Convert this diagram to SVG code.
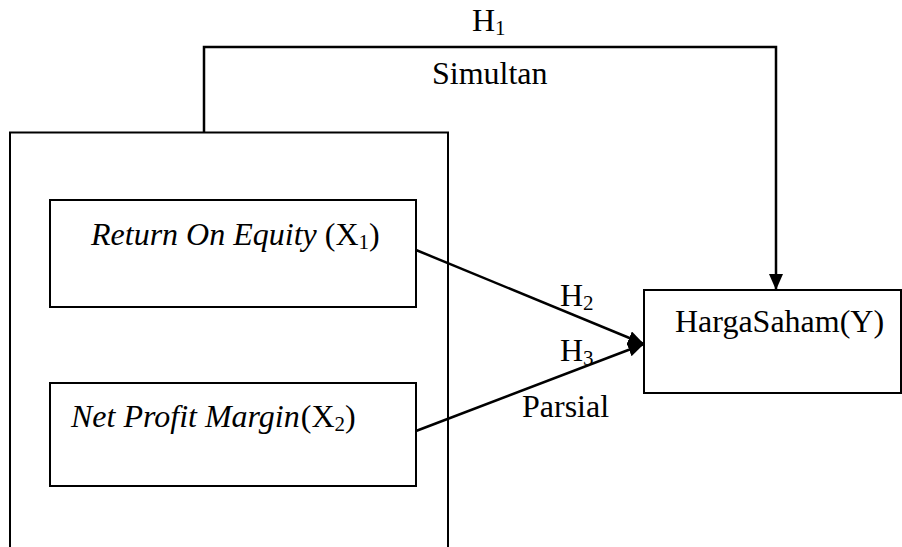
<svg xmlns="http://www.w3.org/2000/svg" width="902" height="547" viewBox="0 0 902 547">
<defs>
<marker id="ah" markerWidth="16" markerHeight="14" refX="16" refY="7" orient="auto" markerUnits="userSpaceOnUse">
<path d="M0,0 L16,7 L0,14 Z" fill="#000"/>
</marker>
</defs>
<rect width="902" height="547" fill="#fff"/>
<g font-family="Liberation Serif, Times New Roman, serif" font-size="32" fill="#000">
<g id="outer">
<path fill="none" stroke="#000" stroke-width="2" d="M10,560 V132.5 H448 V560"/>
</g>
<g id="roe">
<rect fill="none" stroke="#000" stroke-width="2" x="50" y="200" width="366" height="107"/>
<text x="91" y="245"><tspan font-style="italic">Return On Equity</tspan><tspan dx="8">(X</tspan><tspan font-size="21" dy="4">1</tspan><tspan dy="-4">)</tspan></text>
</g>
<g id="npm">
<rect fill="none" stroke="#000" stroke-width="2" x="50" y="383" width="366" height="103"/>
<text x="71" y="427"><tspan font-style="italic">Net Profit Margin</tspan><tspan dx="1">(X</tspan><tspan font-size="21" dy="4">2</tspan><tspan dy="-4">)</tspan></text>
</g>
<g id="harga">
<rect fill="none" stroke="#000" stroke-width="2" x="644" y="290" width="257" height="103"/>
<text x="675" y="331.5">HargaSaham(Y)</text>
</g>
<g id="connectors" fill="none" stroke="#000" stroke-width="2.5">
<path d="M204,132.5 V47 H776 V290" marker-end="url(#ah)"/>
<line x1="416" y1="250" x2="644" y2="344" marker-end="url(#ah)"/>
<line x1="416" y1="431" x2="644" y2="344" marker-end="url(#ah)"/>
</g>
<g id="labels">
<text x="472" y="31">H<tspan font-size="21" dy="4">1</tspan></text>
<text x="432" y="83.5">Simultan</text>
<text x="560" y="306">H<tspan font-size="21" dy="4">2</tspan></text>
<text x="560" y="361">H<tspan font-size="21" dy="4">3</tspan></text>
<text x="522" y="416.5">Parsial</text>
</g>
</g>
</svg>
